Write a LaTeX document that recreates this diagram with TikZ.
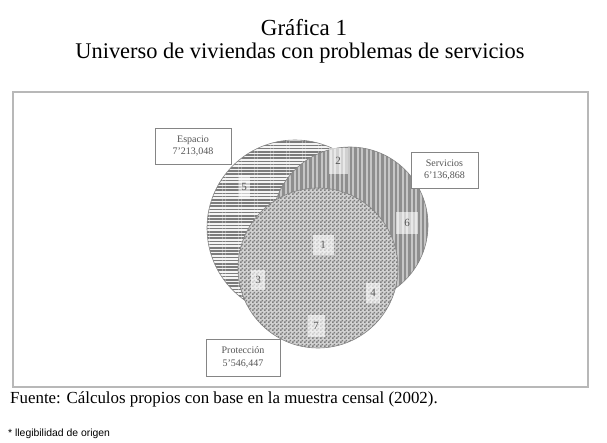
\documentclass[tikz,border=0pt]{standalone}
\usepackage{fontspec}
\setmainfont{Liberation Serif}
\setsansfont{Liberation Sans}
\usetikzlibrary{patterns,patterns.meta}
\pgfdeclarepatternformonly{finechecker}{\pgfpointorigin}{\pgfpoint{4pt}{4pt}}{\pgfpoint{4pt}{4pt}}{%
  \pgfpathrectangle{\pgfpointorigin}{\pgfpoint{2pt}{2pt}}%
  \pgfpathrectangle{\pgfpoint{2pt}{2pt}}{\pgfpoint{2pt}{2pt}}%
  \pgfusepath{fill}}
\definecolor{framegray}{HTML}{B8B8B8}
\definecolor{edgegray}{HTML}{858585}
\definecolor{espbg}{HTML}{F4F4F4}
\definecolor{espline}{HTML}{7C7C7C}
\definecolor{srvbg}{HTML}{C6C6C6}
\definecolor{srvline}{HTML}{8E8E8E}
\definecolor{probg}{HTML}{D2D2D2}
\definecolor{proline}{HTML}{7E7E7E}
\definecolor{labtext}{HTML}{555555}
\tikzset{
  lblbox/.style={draw=edgegray, fill=white, align=center, text=labtext,
    font=\fontsize{10}{12.5}\selectfont, inner sep=0pt},
  numbox/.style={fill=white, fill opacity=0.6, text opacity=1, text=labtext,
    font=\fontsize{11}{11}\selectfont, inner sep=0pt},
  circedge/.style={draw=edgegray, line width=0.6pt}
}
\begin{document}
\begin{tikzpicture}[x=1pt,y=-1pt]
\useasboundingbox (0,0) rectangle (607,443);
% titles
\node[anchor=base, font=\fontsize{23}{26}\selectfont] (t1) at (304,36) {Gráfica 1};
\node[anchor=base, font=\fontsize{22.4}{26}\selectfont] (t2) at (300,59) {Universo de viviendas con problemas de servicios};
% frame
\draw[framegray, line width=1.6pt] (13,92) rectangle (588,387);
% Espacio circle
\fill[espbg] (295,228) circle (88);
\fill[pattern={Lines[angle=0, distance=3.2pt, line width=1.5pt]}, pattern color=espline] (295,228) circle (88);
\draw[circedge] (295,228) circle (88);
% Servicios circle
\fill[srvbg] (350,225) circle (78);
\fill[pattern={Lines[angle=90, distance=4.5pt, line width=2.2pt]}, pattern color=srvline] (350,225) circle (78);
\draw[circedge] (350,225) circle (78);
% Proteccion circle
\fill[probg] (318,268) circle (80);
\fill[pattern=finechecker, pattern color=proline] (318,268) circle (80);
\draw[circedge] (318,268) circle (80);
% region numbers
\node[numbox, minimum width=11pt, minimum height=24pt] (n5) at (244,187) {5};
\node[numbox, minimum width=19pt, minimum height=26pt] (n2) at (338,161) {2};
\node[numbox, minimum width=22pt, minimum height=22pt] (n6) at (407,223) {6};
\node[numbox, minimum width=21pt, minimum height=20pt] (n1) at (323,245) {1};
\node[numbox, minimum width=14pt, minimum height=20pt] (n3) at (258,280) {3};
\node[numbox, minimum width=14pt, minimum height=19pt] (n4) at (373,293) {4};
\node[numbox, minimum width=17pt, minimum height=22pt] (n7) at (316,326) {7};
% labels
\node[lblbox, minimum width=76pt, minimum height=36pt] (esp) at (193,146) {Espacio\\7'213,048};
\node[lblbox, minimum width=67pt, minimum height=36pt] (srv) at (444.5,170) {Servicios\\6'136,868};
\node[lblbox, minimum width=74pt, minimum height=37pt] (pro) at (243,357.5) {Protección\\5'546,447};
% source and footnote
\node[anchor=base west, inner sep=0pt, font=\fontsize{16.9}{18}\selectfont] (src) at (10,403) {Fuente: Cálculos propios con base en la muestra censal (2002).};
\node[anchor=base west, inner sep=0pt, font=\sffamily\fontsize{10.4}{12}\selectfont] (fn) at (8,436) {* llegibilidad de origen};
\end{tikzpicture}
\end{document}
